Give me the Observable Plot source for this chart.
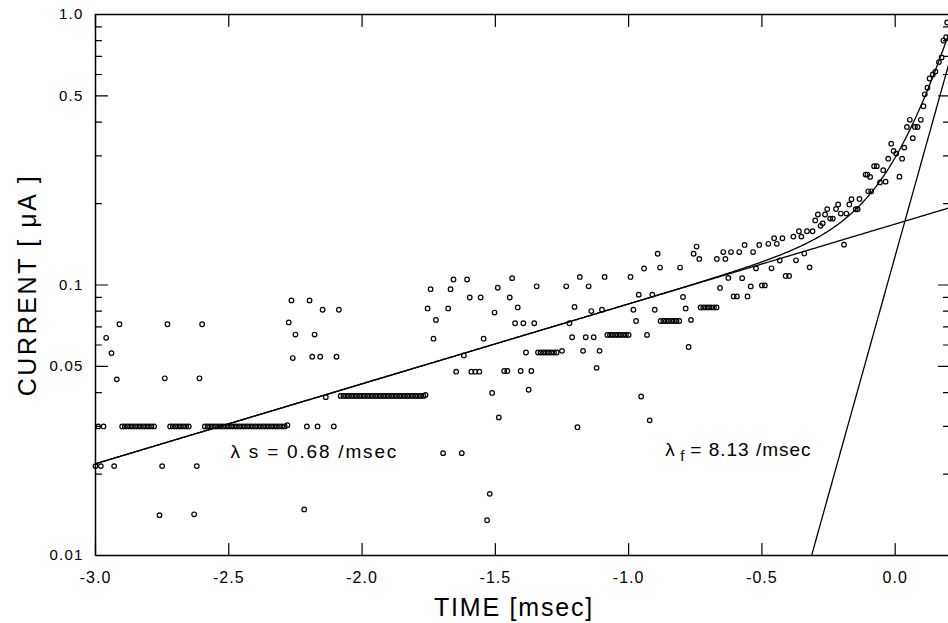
<!DOCTYPE html>
<html>
<head>
<meta charset="utf-8">
<script src="https://cdn.jsdelivr.net/npm/d3@7"></script>
<script src="https://cdn.jsdelivr.net/npm/@observablehq/plot@0.6"></script>
<style>
  body { margin: 0; background: #fff; }
  g[aria-label="x-axis tick label"] text { letter-spacing: 1px; }
  g[aria-label="y-axis tick label"] text { letter-spacing: 1.2px; }
  text[aria-label="title-x"] { letter-spacing: 1.8px; }
  text[aria-label="title-y"] { letter-spacing: 2.6px; }
  text[aria-label="lambda-s"] { letter-spacing: 1.8px; }
  text[aria-label="lambda-f"] { letter-spacing: 1px; }
</style>
</head>
<body>
<div id="chart"></div>
<script>
// ---------- data ----------
// isolated samples: [time (msec), current (uA)]
const sparsePoints = [
  [-3.00,0.0214],[-2.99,0.030],[-2.98,0.0214],[-2.97,0.030],[-2.96,0.0638],[-2.94,0.056],
  [-2.93,0.0214],[-2.92,0.0448],[-2.91,0.0716],
  [-2.76,0.0141],[-2.75,0.0214],[-2.74,0.0452],[-2.73,0.0716],
  [-2.63,0.0142],[-2.62,0.0214],[-2.61,0.0452],[-2.60,0.0716],
  [-2.28,0.0303],
  [-2.275,0.0727],[-2.265,0.0877],[-2.26,0.0537],[-2.25,0.0656],[-2.217,0.0148],[-2.207,0.030],
  [-2.197,0.0877],[-2.187,0.0543],[-2.178,0.0656],[-2.167,0.030],[-2.157,0.0543],[-2.148,0.081],
  [-2.136,0.0385],[-2.106,0.030],[-2.096,0.0543],[-2.087,0.081],
  [-1.762,0.0392],
  [-1.754,0.0819],[-1.743,0.0965],[-1.732,0.0633],[-1.723,0.0743],[-1.696,0.0239],[-1.677,0.0819],
  [-1.668,0.0965],[-1.657,0.1048],[-1.647,0.0478],[-1.626,0.0239],[-1.618,0.0549],[-1.606,0.1048],
  [-1.596,0.0899],[-1.590,0.0478],[-1.575,0.0478],[-1.560,0.0478],[-1.555,0.0899],[-1.544,0.0633],
  [-1.531,0.0135],[-1.521,0.0169],[-1.512,0.0399],[-1.503,0.0791],[-1.491,0.0977],[-1.487,0.0324],
  [-1.467,0.0481],[-1.455,0.0481],[-1.446,0.0899],[-1.437,0.106],[-1.426,0.0722],[-1.416,0.0826],
  [-1.405,0.0481],[-1.395,0.0722],[-1.385,0.0563],[-1.375,0.041],[-1.365,0.0481],[-1.354,0.0722],
  [-1.345,0.0989],
  [-1.25,0.0571],
  [-1.234,0.0989],[-1.222,0.0722],[-1.212,0.0641],[-1.203,0.083],[-1.192,0.0298],[-1.183,0.1071],
  [-1.171,0.0571],[-1.161,0.0641],[-1.150,0.0989],[-1.140,0.0801],[-1.131,0.0641],[-1.120,0.0494],
  [-1.109,0.0571],[-1.100,0.081],[-1.090,0.1071],
  [-0.993,0.1071],[-0.982,0.081],[-0.972,0.0736],[-0.962,0.0921],[-0.953,0.0387],[-0.942,0.1151],
  [-0.931,0.0654],[-0.921,0.0316],[-0.911,0.0921],[-0.902,0.081],[-0.891,0.1305],[-0.882,0.116],
  [-0.807,0.116],[-0.796,0.0903],[-0.786,0.0819],[-0.775,0.059],[-0.766,0.0743],[-0.756,0.1305],
  [-0.745,0.1387],[-0.735,0.1248],
  [-0.669,0.1248],[-0.657,0.0975],[-0.645,0.1324],[-0.637,0.1248],[-0.626,0.1062],[-0.616,0.1324],
  [-0.606,0.0907],[-0.594,0.0907],[-0.585,0.1324],[-0.574,0.106],[-0.565,0.1406],[-0.554,0.0907],
  [-0.542,0.0988],[-0.533,0.1324],[-0.522,0.1152],[-0.510,0.1406],[-0.500,0.0996],[-0.489,0.0996],
  [-0.476,0.142],[-0.464,0.1153],[-0.454,0.1489],[-0.444,0.142],[-0.433,0.1232],[-0.423,0.1489],
  [-0.411,0.108],[-0.398,0.108],[-0.382,0.151],[-0.372,0.1234],[-0.361,0.158],[-0.352,0.151],
  [-0.341,0.1307],[-0.331,0.158],[-0.321,0.1162],[-0.310,0.158],[-0.300,0.1733],[-0.290,0.1822],
  [-0.280,0.1655],[-0.272,0.169],[-0.263,0.1822],[-0.255,0.1908],[-0.244,0.176],[-0.234,0.176],
  [-0.222,0.191],[-0.214,0.1985],[-0.204,0.1837],[-0.192,0.141],[-0.183,0.1837],[-0.172,0.1985],
  [-0.164,0.2075],[-0.148,0.1906],[-0.141,0.1906],[-0.134,0.208],[-0.111,0.256],[-0.104,0.256],
  [-0.101,0.222],[-0.090,0.222],[-0.094,0.251],[-0.079,0.275],[-0.069,0.275],[-0.057,0.2395],
  [-0.045,0.2657],[-0.036,0.241],[-0.026,0.293],[-0.015,0.333],[-0.006,0.313],[0.004,0.306],
  [0.016,0.2515],[0.026,0.293],[0.034,0.322],[0.044,0.384],[0.055,0.408],[0.066,0.349],
  [0.074,0.384],[0.084,0.384],[0.096,0.408],[0.106,0.458],[0.111,0.507],[0.121,0.536],
  [0.129,0.580],[0.141,0.600],[0.151,0.615],[0.164,0.667],[0.174,0.694],[0.181,0.801],
  [0.191,0.824],[0.195,0.934]
];

// runs of consecutive samples sitting on one digitizer level
const plateauLevels = [0.030, 0.030, 0.030, 0.0389, 0.0563, 0.0654, 0.0736, 0.0826];
const plateauTimes = [
  [-2.90,-2.89,-2.88,-2.87,-2.86,-2.85,-2.84,-2.83,-2.82,-2.81,-2.80,-2.79,-2.78],
  [-2.72,-2.71,-2.70,-2.69,-2.68,-2.67,-2.66,-2.65],
  [-2.59,-2.58,-2.57,-2.56,-2.55,-2.54,-2.53,-2.52,-2.51,-2.50,-2.49,-2.48,-2.47,-2.46,-2.45,-2.44,
   -2.43,-2.42,-2.41,-2.40,-2.39,-2.38,-2.37,-2.36,-2.35,-2.34,-2.33,-2.32,-2.31,-2.30,-2.29],
  [-2.08,-2.07,-2.06,-2.05,-2.04,-2.03,-2.02,-2.01,-2.00,-1.99,-1.98,-1.97,-1.96,-1.95,-1.94,-1.93,
   -1.92,-1.91,-1.90,-1.89,-1.88,-1.87,-1.86,-1.85,-1.84,-1.83,-1.82,-1.81,-1.80,-1.79,-1.78,-1.77],
  [-1.34,-1.33,-1.32,-1.31,-1.30,-1.29,-1.28,-1.27],
  [-1.08,-1.07,-1.06,-1.05,-1.04,-1.03,-1.02,-1.01,-1.00],
  [-0.88,-0.87,-0.86,-0.85,-0.84,-0.83,-0.82,-0.81],
  [-0.73,-0.72,-0.71,-0.70,-0.69,-0.68,-0.67]
];

// fitted components (rates from the labels, amplitudes)
const lambdaSlow = 0.68, ampSlow = 0.168;
const lambdaFast = 8.13, ampFast = 0.128;

// axis ticks
const xTickValues = [-3.0, -2.5, -2.0, -1.5, -1.0, -0.5, 0.0];
const xTickLabels = ["-3.0", "-2.5", "-2.0", "-1.5", "-1.0", "-0.5", "0.0"];
const yTickValues = [0.01, 0.05, 0.1, 0.5, 1.0];
const yTickLabels = ["0.01", "0.05", "0.1", "0.5", "1.0"];
const yMinorTicks = [0.02,0.03,0.04,0.06,0.07,0.08,0.09,0.2,0.3,0.4,0.6,0.7,0.8,0.9];

// annotation anchors
const annotTime = [-2.494, -0.8625];
const annotCurrent = [0.0242, 0.0245];

// ---------- build ----------
const points = sparsePoints.map(([t, i]) => ({t, i}));
plateauTimes.forEach((ts, k) => ts.forEach(t => points.push({t, i: plateauLevels[k]})));

const fitGrid = d3.range(-3.0, 0.2001, 0.005);
const slowFit = fitGrid.map(t => ({t, i: ampSlow * Math.exp(lambdaSlow * t)}));
const fastFit = d3.range(-0.40, 0.2001, 0.005).map(t => ({t, i: ampFast * Math.exp(lambdaFast * t)}));
const sumFit = fitGrid.map(t => ({t, i: ampSlow * Math.exp(lambdaSlow * t) + ampFast * Math.exp(lambdaFast * t)}));

const xLabel = new Map(xTickValues.map((v, k) => [v, xTickLabels[k]]));
const yLabel = new Map(yTickValues.map((v, k) => [v, yTickLabels[k]]));

const tickShape = {draw(ctx, l) { ctx.moveTo(0, 0); ctx.lineTo(0, -l); }};
const tick = (data, opts) => Plot.vector(data, {anchor: "start", shape: tickShape, stroke: "black", strokeWidth: 1.2, ...opts});

const annot = annotTime.map((t, k) => ({t, i: annotCurrent[k]}));

const chart = Plot.plot({
  width: 948,
  height: 623,
  marginLeft: 95,
  marginRight: 0,
  marginTop: 14,
  marginBottom: 68,
  style: {fontFamily: "'Liberation Sans', Arial, Helvetica, sans-serif", background: "#fff", color: "#000"},
  x: {domain: [-3.0, 0.2]},
  y: {type: "log", domain: [0.01, 1.0]},
  marks: [
    // frame
    Plot.ruleX([-3.0], {stroke: "black", strokeWidth: 1.5}),
    Plot.ruleY([0.01, 1.0], {stroke: "black", strokeWidth: 1.5}),
    // inward ticks
    tick(xTickValues, {x: d => d, frameAnchor: "bottom", rotate: 0, length: 12}),
    tick(xTickValues, {x: d => d, frameAnchor: "top", rotate: 180, length: 12}),
    tick(yTickValues, {y: d => d, frameAnchor: "left", rotate: 90, length: 12}),
    tick(yMinorTicks, {y: d => d, frameAnchor: "left", rotate: 90, length: 6}),
    tick(yTickValues, {y: d => d, frameAnchor: "right", rotate: -90, length: 10}),
    tick(yMinorTicks, {y: d => d, frameAnchor: "right", rotate: -90, length: 5}),
    // tick labels
    Plot.axisX(xTickValues, {anchor: "bottom", tickSize: 0, tickPadding: 16, fontSize: 16,
      tickFormat: d => xLabel.get(d), label: null}),
    Plot.axisY(yTickValues, {anchor: "left", tickSize: 0, tickPadding: 12, fontSize: 15,
      tickFormat: d => yLabel.get(d), label: null}),
    // titles
    Plot.text(["TIME [msec]"], {frameAnchor: "bottom", textAnchor: "middle", lineAnchor: "middle",
      dx: -8, dy: 52, fontSize: 25, ariaLabel: () => "title-x"}),
    Plot.text(["CURRENT [ μA ]"], {frameAnchor: "left", textAnchor: "middle", lineAnchor: "middle",
      rotate: -90, dx: -68, fontSize: 25, ariaLabel: () => "title-y"}),
    // fits
    Plot.line(slowFit, {x: "t", y: "i", stroke: "black", strokeWidth: 1.3}),
    Plot.line(sumFit, {x: "t", y: "i", stroke: "black", strokeWidth: 1.3}),
    Plot.line(fastFit, {x: "t", y: "i", stroke: "black", strokeWidth: 1.3, clip: true}),
    // data
    Plot.dot(points, {x: "t", y: "i", r: 2.3, stroke: "black", strokeWidth: 1.2, fill: "none"}),
    // annotations
    Plot.text([annot[0]], {x: "t", y: "i", text: () => "λ s = 0.68 /msec", textAnchor: "start", fontSize: 19, ariaLabel: () => "lambda-s"}),
    Plot.text([annot[1]], {x: "t", y: "i", text: () => "λ", textAnchor: "start", fontSize: 19, ariaLabel: () => "lambda-f"}),
    Plot.text([annot[1]], {x: "t", y: "i", text: () => "f", textAnchor: "start", fontSize: 15, dx: 15, dy: 6, ariaLabel: () => "lambda-f"}),
    Plot.text([annot[1]], {x: "t", y: "i", text: () => "= 8.13 /msec", textAnchor: "start", fontSize: 19, dx: 25, ariaLabel: () => "lambda-f"})
  ]
});
document.getElementById("chart").appendChild(chart);
</script>
</body>
</html>
